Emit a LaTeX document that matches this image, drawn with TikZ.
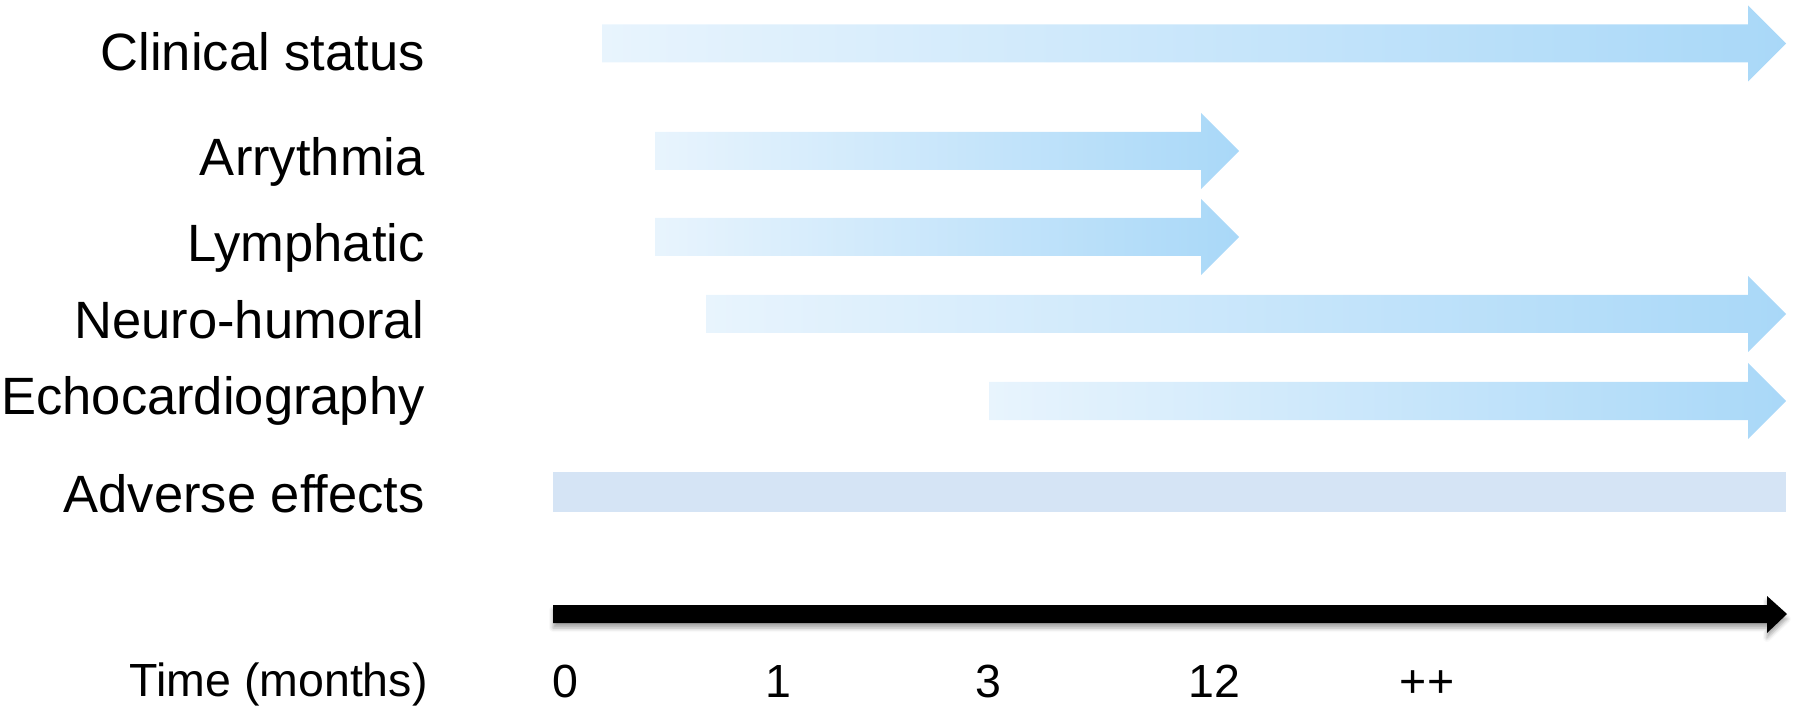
\documentclass[tikz,border=0pt]{standalone}
\usepackage{fontspec}
\setmainfont{Liberation Sans}
\usetikzlibrary{shadows.blur}
\definecolor{arrowstart}{HTML}{E8F4FD}
\definecolor{arrowend}{HTML}{A9D8F8}
\definecolor{adverse}{HTML}{D5E4F5}
\newcommand\blockarrow[3]{% #1 start x, #2 tip x, #3 centre y
  \shade[arrowfill] (#1,#3-19) -- (#2-38,#3-19) -- (#2-38,#3-38) -- (#2,#3)
    -- (#2-38,#3+38) -- (#2-38,#3+19) -- (#1,#3+19) -- cycle;}
\tikzset{
  arrowfill/.style={left color=arrowstart, right color=arrowend},
  rowlabel/.style={anchor=base east, inner sep=0pt, font=\fontsize{26.25}{30}\selectfont},
  timelabel/.style={anchor=base, inner sep=0pt, font=\fontsize{23.25}{27}\selectfont},
}
\begin{document}
\begin{tikzpicture}[x=0.5pt,y=-0.5pt]
\useasboundingbox (0,0) rectangle (1800,711);
% row labels
\node[rowlabel] (clin) at (425,71) {Clinical status};
\node[rowlabel] (arr) at (425,176) {Arrythmia};
\node[rowlabel] (lym) at (425,262) {Lymphatic};
\node[rowlabel] (neu) at (425,339) {Neuro-humoral};
\node[rowlabel] (echo) at (425,415) {Echocardiography};
\node[rowlabel] (adv) at (425,512) {Adverse effects};
% block arrows
\blockarrow{602}{1786}{43.5}
\blockarrow{655}{1239}{151}
\blockarrow{655}{1239}{237}
\blockarrow{706}{1786}{314}
\blockarrow{989}{1786}{401}
% adverse effects bar
\fill[adverse] (553,472) rectangle (1786,512);
% time axis
\fill[black, blur shadow={shadow xshift=0pt, shadow yshift=-2.5pt, shadow blur radius=2pt, shadow opacity=35}]
  (553,605) -- (1767,605) -- (1767,596) -- (1787,614) -- (1767,633) -- (1767,623) -- (553,623) -- cycle;
% time labels
\node[anchor=base east, inner sep=0pt, font=\fontsize{23.25}{27}\selectfont] (time) at (428,696) {Time (months)};
\node[timelabel] (t0) at (565,697) {0};
\node[timelabel] (t1) at (778,697) {1};
\node[timelabel] (t3) at (988,697) {3};
\node[timelabel] (t12) at (1214,697) {12};
\node[timelabel] (tpp) at (1427,697) {++};
\end{tikzpicture}
\end{document}
